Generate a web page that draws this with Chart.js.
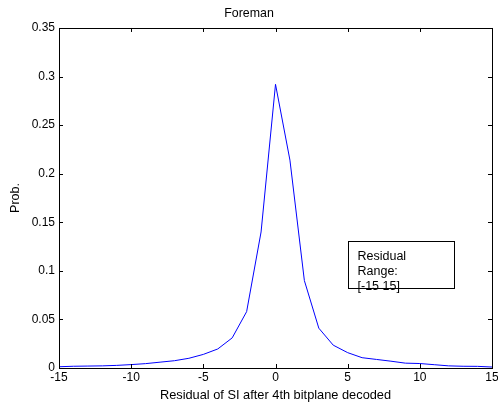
<!DOCTYPE html>
<html>
<head>
<meta charset="utf-8">
<script src="https://cdn.jsdelivr.net/npm/chart.js@4.4.1/dist/chart.umd.min.js"></script>
<style>
  html, body { margin: 0; padding: 0; background: #fff; }
  #wrap { width: 498px; height: 406px; }
</style>
</head>
<body>
<div id="wrap"><canvas id="c" width="498" height="406"></canvas></div>
<script>
const residuals = [-15,-14,-13,-12,-11,-10,-9,-8,-7,-6,-5,-4,-3,-2,-1,0,1,2,3,4,5,6,7,8,9,10,11,12,13,14,15];
const probabilities = [0.0013,0.0018,0.0020,0.0022,0.0027,0.0035,0.0045,0.0060,0.0075,0.0100,0.0140,0.0196,0.0310,0.0580,0.1400,0.2920,0.2140,0.0900,0.0410,0.0235,0.0158,0.0106,0.0088,0.0070,0.0050,0.0046,0.0034,0.0022,0.0018,0.0017,0.0010];
const xTicks = [-15,-10,-5,0,5,10,15];
const yTicks = [0,0.05,0.1,0.15,0.2,0.25,0.3,0.35];
const chartTitle = "Foreman";
const xLabel = "Residual of SI after 4th bitplane decoded";
const yLabel = "Prob.";
const noteLines = ["Residual", "Range:", "[-15 15]"];
const noteBox = { x1: 5, x2: 12.35, y1: 0.131, y2: 0.0824 };

const FONT = "'Liberation Sans', Arial, sans-serif";

const frameAndTicks = {
  id: 'frameAndTicks',
  afterDatasetsDraw(chart) {
    const {ctx, chartArea: a, scales: {x, y}} = chart;
    ctx.save();
    ctx.strokeStyle = '#000';
    ctx.lineWidth = 1;
    const L = 4;
    ctx.beginPath();
    xTicks.forEach(v => {
      const px = Math.round(x.getPixelForValue(v)) + 0.5;
      ctx.moveTo(px, a.bottom); ctx.lineTo(px, a.bottom - L);
      ctx.moveTo(px, a.top); ctx.lineTo(px, a.top + L);
    });
    yTicks.forEach(v => {
      const py = Math.round(y.getPixelForValue(v)) + 0.5;
      ctx.moveTo(a.left, py); ctx.lineTo(a.left + L, py);
      ctx.moveTo(a.right, py); ctx.lineTo(a.right - L, py);
    });
    ctx.stroke();
    ctx.strokeRect(Math.round(a.left) + 0.5, Math.round(a.top) + 0.5,
                   Math.round(a.right - a.left), Math.round(a.bottom - a.top));
    // note box
    const bx1 = Math.round(x.getPixelForValue(noteBox.x1)) + 0.5;
    const bx2 = Math.round(x.getPixelForValue(noteBox.x2)) + 0.5;
    const by1 = Math.round(y.getPixelForValue(noteBox.y1)) + 0.5;
    const by2 = Math.round(y.getPixelForValue(noteBox.y2)) + 0.5;
    ctx.strokeRect(bx1, by1, bx2 - bx1, by2 - by1);
    ctx.fillStyle = '#000';
    ctx.font = '12.5px ' + FONT;
    ctx.textBaseline = 'middle';
    ctx.textAlign = 'left';
    noteLines.forEach((t, i) => {
      ctx.fillText(t, bx1 + 9, by1 + 15.5 + i * 15);
    });
    ctx.restore();
  }
};

new Chart(document.getElementById('c'), {
  type: 'line',
  data: {
    labels: residuals,
    datasets: [{
      data: residuals.map((r, i) => ({x: r, y: probabilities[i]})),
      borderColor: '#0000ff',
      borderWidth: 1,
      pointRadius: 0,
      tension: 0,
      fill: false
    }]
  },
  options: {
    responsive: false,
    animation: false,
    layout: { padding: { left: 0, right: 0, top: 0, bottom: 0 } },
    plugins: {
      legend: { display: false },
      tooltip: { enabled: false },
      title: {
        display: true,
        text: chartTitle,
        color: '#000',
        font: { family: FONT, size: 12.4, weight: 'normal' },
        padding: { top: 6, bottom: 7.1 }
      }
    },
    scales: {
      x: {
        type: 'linear',
        min: -15, max: 15,
        afterBuildTicks(s) { s.ticks = xTicks.map(v => ({value: v})); },
        afterFit(s) { s.height = 38; s.paddingRight = 6; s.paddingLeft = 0; },
        grid: { display: false, drawTicks: false },
        border: { display: false },
        ticks: {
          color: '#000', padding: 2,
          font: { family: FONT, size: 12 },
          maxRotation: 0, autoSkip: false
        },
        title: {
          display: true, text: xLabel, color: '#000',
          font: { family: FONT, size: 12.8 },
          padding: { top: 2, bottom: 3.3 }
        }
      },
      y: {
        type: 'linear',
        min: 0, max: 0.35,
        afterBuildTicks(s) { s.ticks = yTicks.map(v => ({value: v})); },
        afterFit(s) { s.width = 59; s.paddingTop = 0; s.paddingBottom = 0; },
        grid: { display: false, drawTicks: false },
        border: { display: false },
        ticks: {
          color: '#000', padding: 4,
          font: { family: FONT, size: 12 },
          callback: v => String(Math.round(v * 100) / 100)
        },
        title: {
          display: true, text: yLabel, color: '#000',
          font: { family: FONT, size: 12.5 },
          padding: { top: 8, bottom: 0 }
        }
      }
    }
  },
  plugins: [frameAndTicks]
});
</script>
</body>
</html>
